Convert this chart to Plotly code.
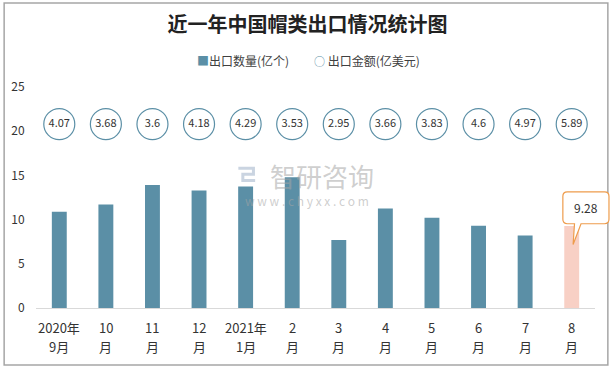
import plotly.graph_objects as go

# ---- data ----
month_top = ["2020年", "10", "11", "12", "2021年", "2", "3", "4", "5", "6", "7", "8"]
month_bottom = ["9月", "月", "月", "月", "1月", "月", "月", "月", "月", "月", "月", "月"]
quantity = [10.9, 11.7, 13.9, 13.3, 13.75, 14.8, 7.7, 11.25, 10.2, 9.3, 8.2, 9.28]
amount = [4.07, 3.68, 3.6, 4.18, 4.29, 3.53, 2.95, 3.66, 3.83, 4.6, 4.97, 5.89]
y_ticks = [0, 5, 10, 15, 20, 25]

title = "近一年中国帽类出口情况统计图"
name_q = "出口数量(亿个)"
name_a = "出口金额(亿美元)"

# ---- style ----
FONT = "Noto Sans CJK SC"
BAR = "#5b8fa6"
HIGHLIGHT = "#f8d0c5"
CIRCLE = "#5b8fa6"
ORANGE = "#ee9c4c"
TXT = "#333333"
WM = "rgba(165,165,165,0.55)"
ROW_Y = 20.8
Y_MAX = 25

n = len(month_top)
xs = list(range(n))
bar_colors = [BAR] * (n - 1) + [HIGHLIGHT]

fig = go.Figure()
fig.add_trace(go.Bar(
    x=xs, y=quantity, name=name_q, width=0.32, showlegend=False,
    marker=dict(color=bar_colors, line=dict(width=0)),
))
fig.add_trace(go.Scatter(
    x=xs, y=[ROW_Y] * n, name=name_a, mode="markers+text", showlegend=False,
    text=[str(v) for v in amount], textposition="middle center",
    textfont=dict(family=FONT, size=11, color=TXT),
    marker=dict(size=31, color="white", line=dict(color=CIRCLE, width=1.2)),
))

# two-line category labels
for i in xs:
    fig.add_annotation(x=i, y=-0.086, xref="x", yref="paper", text=month_top[i],
                       showarrow=False, xanchor="center", yanchor="middle",
                       font=dict(family=FONT, size=13, color=TXT))
    fig.add_annotation(x=i, y=-0.172, xref="x", yref="paper", text=month_bottom[i],
                       showarrow=False, xanchor="center", yanchor="middle",
                       font=dict(family=FONT, size=13, color=TXT))

# callout for last bar (paper coords derived from the axis mapping, so it is not clipped)
def px(c):
    return (c + 0.5) / n

def py(val):
    return val / Y_MAX

last = n - 1
v = quantity[last]
bx0, bx1 = px(last - 0.19), px(last + 0.80)
by0, by1 = py(v + 0.25), py(v + 3.85)
r_x, r_y = 0.008, 0.02
tip_x, tip_y = px(last + 0.03), py(v - 2.1)
t0, t1 = px(last + 0.06), px(last + 0.2)
path = (f"M {bx0 + r_x},{by1} L {bx1 - r_x},{by1} Q {bx1},{by1} {bx1},{by1 - r_y} "
        f"L {bx1},{by0 + r_y} Q {bx1},{by0} {bx1 - r_x},{by0} "
        f"L {t1},{by0} L {tip_x},{tip_y} L {t0},{by0} "
        f"L {bx0 + r_x},{by0} Q {bx0},{by0} {bx0},{by0 + r_y} "
        f"L {bx0},{by1 - r_y} Q {bx0},{by1} {bx0 + r_x},{by1} Z")
fig.add_shape(type="path", path=path, xref="paper", yref="paper",
              line=dict(color=ORANGE, width=1.2), fillcolor="white", layer="above")
fig.add_annotation(x=(bx0 + bx1) / 2, y=(by0 + by1) / 2, text=str(v), showarrow=False,
                   xanchor="center", yanchor="middle",
                   font=dict(family=FONT, size=12, color=TXT), xref="paper", yref="paper")

# legend (manual)
fig.add_annotation(x=0.371, y=1.122, xref="paper", yref="paper", xanchor="center", yanchor="middle",
                   text=f'<span style="color:{BAR}">■</span>{name_q}', showarrow=False,
                   font=dict(family=FONT, size=12, color="#404040"))
fig.add_annotation(x=0.593, y=1.122, xref="paper", yref="paper", xanchor="center", yanchor="middle",
                   text=f'<span style="color:{CIRCLE};font-size:11px">○</span> {name_a}', showarrow=False,
                   font=dict(family=FONT, size=12, color="#404040"))

# watermark
fig.add_annotation(x=0.512, y=0.600, xref="paper", yref="paper", xanchor="center", yanchor="middle",
                   text="智研咨询", showarrow=False, font=dict(family=FONT, size=26, color=WM))
fig.add_annotation(x=0.485, y=0.488, xref="paper", yref="paper", xanchor="center", yanchor="middle",
                   text="w w w . c h y x x . c o m", showarrow=False,
                   font=dict(family=FONT, size=12, color=WM))
fig.add_shape(type="path", xref="paper", yref="paper",
              path="M 0.362,0.632 L 0.389,0.632 L 0.389,0.605 L 0.370,0.605 L 0.370,0.577 L 0.392,0.577",
              line=dict(color="rgba(150,170,195,0.5)", width=3), layer="below")

# outer border
fig.add_shape(type="rect", xref="paper", yref="paper", x0=-0.057, x1=1.023, y0=-0.258, y1=1.380,
              line=dict(color="#a6a6a6", width=1.5), fillcolor="rgba(0,0,0,0)", layer="below")

fig.update_layout(
    width=615, height=369,
    margin=dict(l=36, r=20, t=87, b=61),
    paper_bgcolor="white", plot_bgcolor="rgba(0,0,0,0)",
    font=dict(family=FONT, size=12, color=TXT),
    title=dict(text=title, x=0.5, xanchor="center", y=0.932, yanchor="middle",
               font=dict(family=FONT, size=20, color="#222222", weight="bold")),
    showlegend=False,
)
fig.update_xaxes(tickmode="array", tickvals=xs, showticklabels=False, range=[-0.5, n - 0.5],
                 showline=True, linecolor="#d9d9d9", linewidth=1, showgrid=False,
                 zeroline=False, ticks="")
fig.update_yaxes(range=[0, Y_MAX], tickvals=y_ticks, showgrid=False, zeroline=False,
                 showline=False, ticks="outside", ticklen=8, tickcolor="rgba(0,0,0,0)",
                 tickfont=dict(family=FONT, size=12, color=TXT))

fig.write_html("out.html", post_script="document.body.style.margin='0';",
               config={"displayModeBar": False})
